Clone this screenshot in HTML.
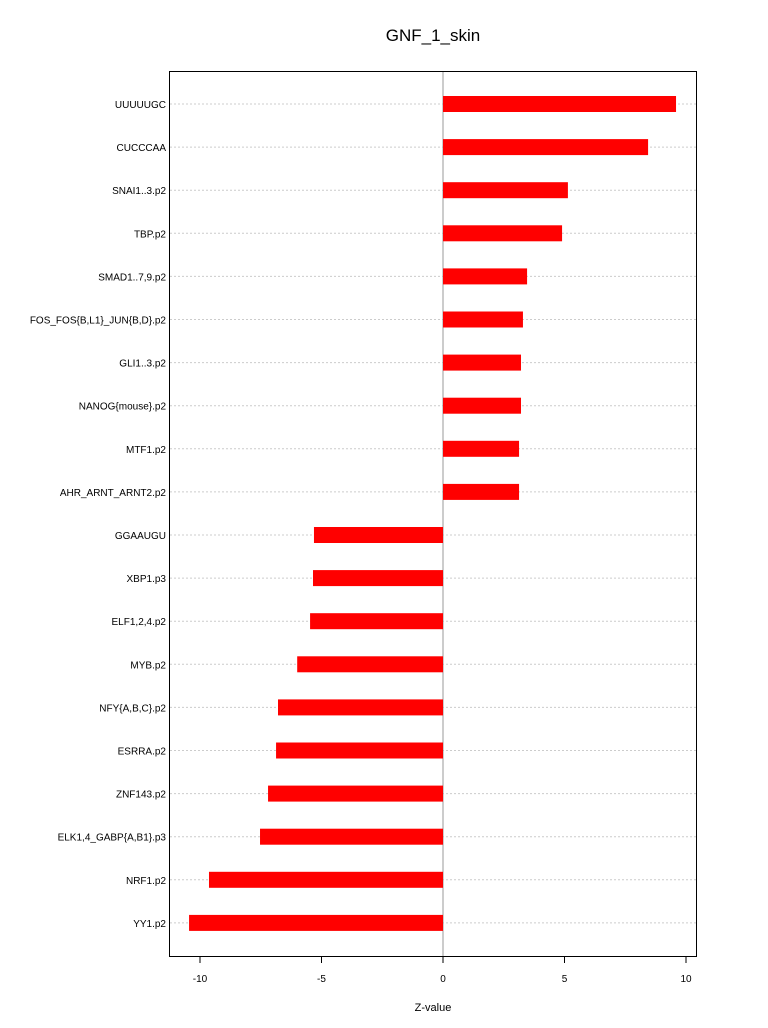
<!DOCTYPE html>
<html><head><meta charset="utf-8"><style>
body{margin:0;background:#fff;}
svg{display:block;font-family:"Liberation Sans",Arial,sans-serif;}
</style></head><body>
<svg id="chart" width="768" height="1028">
<text x="433" y="41" text-anchor="middle" font-size="17">GNF_1_skin</text>
<text x="433" y="1011" text-anchor="middle" font-size="11">Z-value</text>
<g id="grid"></g><g id="bars"></g><g id="labels"></g><g id="axis"></g>
<rect x="169.5" y="71.5" width="527" height="885" fill="none" stroke="#000"/>
</svg>
<script>
const categories=["UUUUUGC","CUCCCAA","SNAI1..3.p2","TBP.p2","SMAD1..7,9.p2","FOS_FOS{B,L1}_JUN{B,D}.p2","GLI1..3.p2","NANOG{mouse}.p2","MTF1.p2","AHR_ARNT_ARNT2.p2","GGAAUGU","XBP1.p3","ELF1,2,4.p2","MYB.p2","NFY{A,B,C}.p2","ESRRA.p2","ZNF143.p2","ELK1,4_GABP{A,B1}.p3","NRF1.p2","YY1.p2"];
const values=[9.59,8.44,5.14,4.9,3.46,3.29,3.21,3.21,3.13,3.13,-5.31,-5.35,-5.47,-6.0,-6.79,-6.87,-7.2,-7.53,-9.63,-10.45];
const ticks=[-10,-5,0,5,10];
const NS="http://www.w3.org/2000/svg";
const x=v=>443+v*24.3;
const y=i=>104+i*43.1;
function mk(t,a,p){const e=document.createElementNS(NS,t);for(const k in a)e.setAttribute(k,a[k]);document.getElementById(p).appendChild(e);return e;}
categories.forEach((c,i)=>{
 const g=mk("line",{x1:170,x2:696,y1:y(i),y2:y(i),stroke:"#ccc","stroke-dasharray":"2,2"},"grid");
 
 
 const v=values[i];
 const b=mk("rect",{x:Math.min(x(0),x(v)),y:y(i)-8,width:Math.abs(x(v)-x(0)),height:16,fill:"#ff0000"},"bars");
 
 
 const t=mk("text",{x:166,y:y(i)+4,"text-anchor":"end","font-size":"10"},"labels");
 t.textContent=c;
 
 
});
const z=mk("line",{x1:x(0),x2:x(0),y1:72,y2:956,stroke:"#999"},"grid");


const ax=mk("line",{x1:x(-10),x2:x(10),y1:956.5,y2:956.5,stroke:"#000"},"axis");


ticks.forEach(t=>{
 const l=mk("line",{x1:x(t),x2:x(t),y1:956,y2:963,stroke:"#000"},"axis");
 
 
 const s=mk("text",{x:x(t),y:982,"text-anchor":"middle","font-size":"10"},"axis");
 s.textContent=t;
 
 
});
</script>
</body></html>
